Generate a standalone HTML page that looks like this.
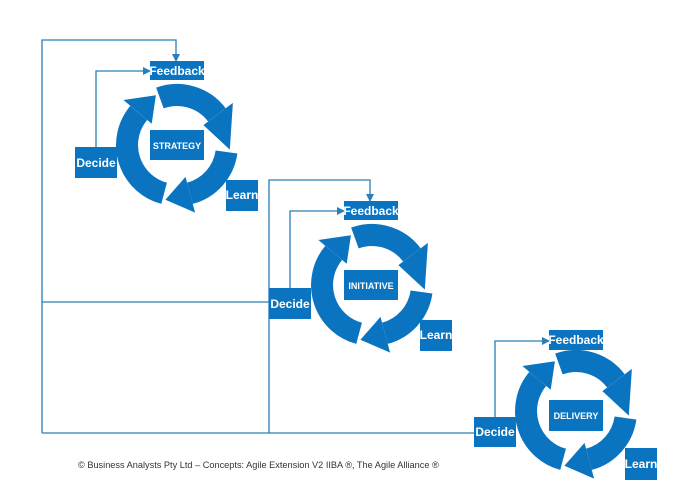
<!DOCTYPE html>
<html><head><meta charset="utf-8"><style>
body{margin:0;background:#fff;width:680px;height:502px;overflow:hidden;font-family:"Liberation Sans",sans-serif}
svg{position:absolute;left:0;top:0}
</style></head><body>
<svg width="680" height="502" viewBox="0 0 680 502">
<defs>
<g id="ring" fill="none">
<path d="M-17.1,-47.0 A50,50 0 0 1 39.9,-30.1" stroke="#0b74c1" stroke-width="22"/>
<polygon points="26.4,-19.9 55.9,-42.1 52.8,4.6" fill="#0b74c1"/>
<path d="M49.5,7.0 A50,50 0 0 1 12.9,48.3" stroke="#0b74c1" stroke-width="22"/>
<polygon points="8.5,31.9 18.1,67.6 -11.6,54.8" fill="#0b74c1"/>
<path d="M-12.9,48.3 A50,50 0 0 1 -38.3,-32.1" stroke="#0b74c1" stroke-width="22"/>
<polygon points="-25.3,-21.2 -53.6,-45.0 -21.1,-49.7" fill="#0b74c1"/>
</g>
<marker id="ah" markerWidth="8" markerHeight="8" refX="7" refY="4" orient="auto" markerUnits="userSpaceOnUse"><path d="M0,0 L8,4 L0,8z" fill="#2a7fb8"/></marker>
</defs>
<g stroke="#2a7fb8" stroke-width="1.3" fill="none">
<path d="M42,433 V40 H176 V61" marker-end="url(#ah)"/>
<path d="M42,302 H269"/>
<path d="M42,433 H474"/>
<path d="M269,433 V180 H370 V201" marker-end="url(#ah)"/>
<path d="M96,147 V71 H150" marker-end="url(#ah)"/>
<path d="M290,288 V211 H344" marker-end="url(#ah)"/>
<path d="M495,417 V341 H549" marker-end="url(#ah)"/>
</g>
<use href="#ring" transform="translate(177,145)"/>
<use href="#ring" transform="translate(372,285)"/>
<use href="#ring" transform="translate(576,411)"/>
<g fill="#0b74c1">
<rect x="150" y="61" width="54" height="19"/><rect x="75" y="147" width="42" height="31"/><rect x="150" y="130" width="54" height="30"/><rect x="226" y="180" width="32" height="31"/>
<rect x="344" y="201" width="54" height="19"/><rect x="269" y="288" width="42" height="31"/><rect x="344" y="270" width="54" height="30"/><rect x="420" y="320" width="32" height="31"/>
<rect x="549" y="330" width="54" height="20"/><rect x="474" y="417" width="42" height="30"/><rect x="549" y="400" width="54" height="31"/><rect x="625" y="448" width="32" height="32"/>
</g>
<g fill="#fff" font-family="Liberation Sans, sans-serif" font-weight="bold" text-anchor="middle">
<text x="177" y="75" font-size="12">Feedback</text><text x="96" y="167" font-size="12">Decide</text><text x="177" y="149" font-size="9">STRATEGY</text><text x="242" y="199" font-size="12">Learn</text>
<text x="371" y="215" font-size="12">Feedback</text><text x="290" y="308" font-size="12">Decide</text><text x="371" y="289" font-size="9">INITIATIVE</text><text x="436" y="339" font-size="12">Learn</text>
<text x="576" y="344" font-size="12">Feedback</text><text x="495" y="436" font-size="12">Decide</text><text x="576" y="419" font-size="9">DELIVERY</text><text x="641" y="468" font-size="12">Learn</text>
</g>
<text x="78" y="468" font-size="9.2" fill="#333" font-family="Liberation Sans, sans-serif">© Business Analysts Pty Ltd – Concepts: Agile Extension V2 IIBA ®, The Agile Alliance ®</text>
</svg>
</body></html>
